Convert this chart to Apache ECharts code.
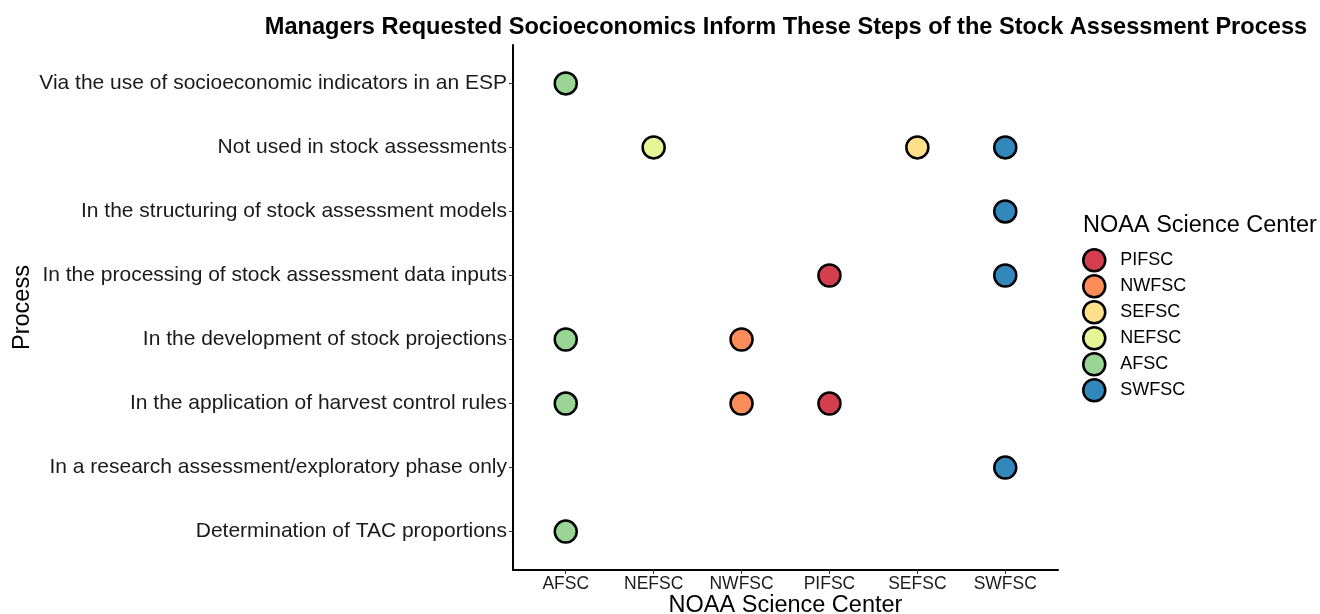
<!DOCTYPE html>
<html>
<head>
<meta charset="utf-8">
<script src="https://cdn.jsdelivr.net/npm/echarts@6/dist/echarts.min.js"></script>
<style>
  html, body { margin: 0; padding: 0; background: #fff; }
  #chart { width: 1320px; height: 614px; }
</style>
</head>
<body>
<div id="chart"></div>
<script>
// x categories (science centers), y categories (process steps, top to bottom)
var centers = ["AFSC", "NEFSC", "NWFSC", "PIFSC", "SEFSC", "SWFSC"];
var processes = [
    "Via the use of socioeconomic indicators in an ESP",
    "Not used in stock assessments",
    "In the structuring of stock assessment models",
    "In the processing of stock assessment data inputs",
    "In the development of stock projections",
    "In the application of harvest control rules",
    "In a research assessment/exploratory phase only",
    "Determination of TAC proportions"
];

// legend order and colours
var legendOrder = ["PIFSC", "NWFSC", "SEFSC", "NEFSC", "AFSC", "SWFSC"];
var COLORS = {
    PIFSC: "#D53E4F",
    NWFSC: "#FC8D59",
    SEFSC: "#FEE08B",
    NEFSC: "#E6F598",
    AFSC: "#99D594",
    SWFSC: "#3288BD"
};

// which steps each center answered
var AFSC = ["Via the use of socioeconomic indicators in an ESP", "In the development of stock projections",
    "In the application of harvest control rules", "Determination of TAC proportions"];
var NEFSC = ["Not used in stock assessments"];
var NWFSC = ["In the development of stock projections", "In the application of harvest control rules"];
var PIFSC = ["In the processing of stock assessment data inputs", "In the application of harvest control rules"];
var SEFSC = ["Not used in stock assessments"];
var SWFSC = ["Not used in stock assessments", "In the structuring of stock assessment models",
    "In the processing of stock assessment data inputs", "In a research assessment/exploratory phase only"];

var answers = { AFSC: AFSC, NEFSC: NEFSC, NWFSC: NWFSC, PIFSC: PIFSC, SEFSC: SEFSC, SWFSC: SWFSC };

var xIdx = centers.map(function (c, i) { return i; });
var yIdx = processes.map(function (p, i) { return i; });

var series = legendOrder.map(function (c) {
    return {
        name: c,
        type: 'scatter',
        symbol: 'circle',
        symbolSize: 22,
        itemStyle: { color: COLORS[c], borderColor: '#000', borderWidth: 2.5, opacity: 1 },
        emphasis: { disabled: true },
        data: answers[c].map(function (p) {
            return [centers.indexOf(c), processes.indexOf(p)];
        })
    };
});

var myChart = echarts.init(document.getElementById('chart'), null, { renderer: 'canvas' });
var font = 'Liberation Sans, Arial, sans-serif';

var option = {
    backgroundColor: '#fff',
    animation: false,
    textStyle: { fontFamily: font },
    title: [{
        text: 'Managers Requested Socioeconomics Inform These Steps of the Stock Assessment Process',
        left: 781,
        textAlign: 'center',
        top: 10,
        textStyle: { fontFamily: font, fontSize: 23.6, fontWeight: 'bold', color: '#000' }
    }, {
        text: 'NOAA Science Center',
        left: 1078,
        top: 209,
        textStyle: { fontFamily: font, fontSize: 23.5, fontWeight: 'normal', color: '#000' }
    }],
    legend: {
        orient: 'vertical',
        left: 1077,
        top: 243,
        data: legendOrder,
        icon: 'circle',
        itemWidth: 22,
        itemHeight: 22,
        itemGap: 1.5,
        selectedMode: false,
        itemStyle: { borderColor: '#000', borderWidth: 2.5 },
        textStyle: { fontFamily: font, fontSize: 18, color: '#000', padding: [0, 0, 0, 10] }
    },
    grid: { left: 513, right: 262, top: 45, bottom: 44, containLabel: false, outerBoundsMode: 'none' },
    xAxis: {
        type: 'value',
        min: -0.6,
        max: 5.6,
        splitLine: { show: false },
        axisLine: { show: true, onZero: false, lineStyle: { color: '#000', width: 2 } },
        axisTick: { show: true, customValues: xIdx, length: 4, lineStyle: { color: '#333', width: 1 } },
        axisLabel: {
            customValues: xIdx,
            formatter: function (v) { return centers[Math.round(v)]; },
            fontFamily: font, fontSize: 17.5, color: '#1a1a1a', margin: 5
        },
        name: 'NOAA Science Center',
        nameLocation: 'middle',
        nameGap: 24,
        nameMoveOverlap: false,
        nameTextStyle: { fontFamily: font, fontSize: 23.5, color: '#000' }
    },
    yAxis: {
        type: 'value',
        inverse: true,
        min: -0.6,
        max: 7.6,
        splitLine: { show: false },
        axisLine: { show: true, onZero: false, lineStyle: { color: '#000', width: 2 } },
        axisTick: { show: true, customValues: yIdx, length: 4, lineStyle: { color: '#333', width: 1 } },
        axisLabel: {
            customValues: yIdx,
            formatter: function (v) { return processes[Math.round(v)]; },
            fontFamily: font, fontSize: 21, color: '#1a1a1a', margin: 6
        },
        name: 'Process',
        nameLocation: 'middle',
        nameGap: 478,
        nameMoveOverlap: false,
        nameRotate: 90,
        nameTextStyle: { fontFamily: font, fontSize: 23.5, color: '#000' }
    },
    series: series
};

myChart.setOption(option);
</script>
</body>
</html>
